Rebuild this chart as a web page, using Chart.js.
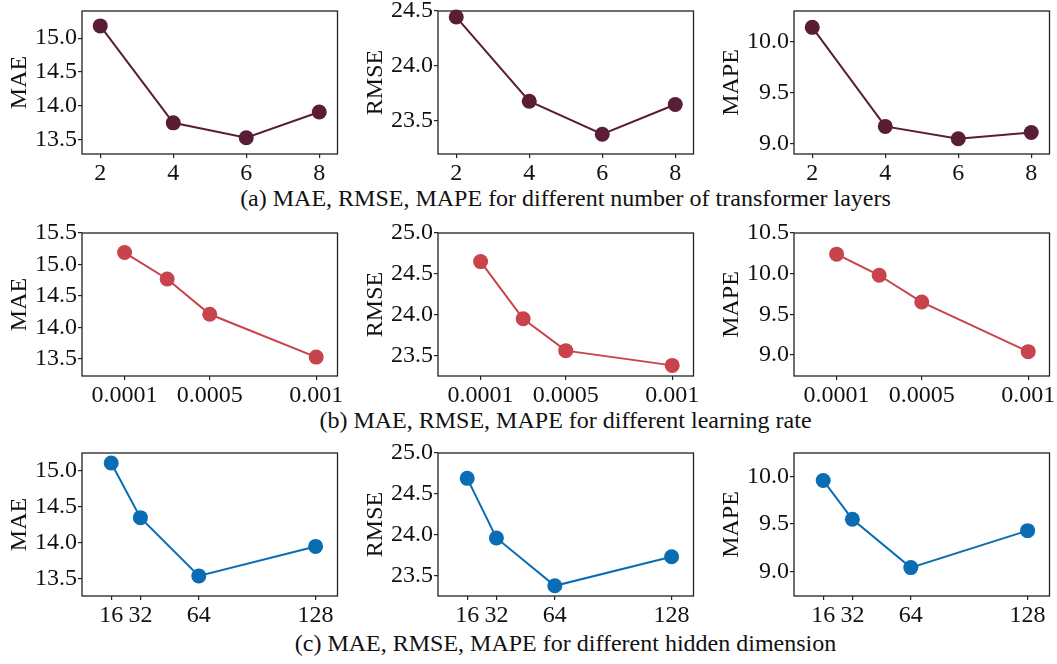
<!DOCTYPE html>
<html>
<head>
<meta charset="utf-8">
<script src="https://cdn.jsdelivr.net/npm/chart.js@4/dist/chart.umd.min.js"></script>
<style>
  body { margin: 0; background: #fff; }
  #wrap { position: relative; width: 1057px; height: 664px; overflow: hidden; background: #fff; }
  canvas { position: absolute; }
  .cap { position: absolute; left: 37px; width: 1057px; text-align: center; line-height: 28px;
         font-family: "Liberation Serif", "DejaVu Serif", serif; font-size: 24px; color: #111; }
</style>
</head>
<body>
<div id="wrap">
  <div class="cap" style="top:184px">(a) MAE, RMSE, MAPE for different number of transformer layers</div>
  <div class="cap" style="top:406px">(b) MAE, RMSE, MAPE for different learning rate</div>
  <div class="cap" style="top:629px">(c) MAE, RMSE, MAPE for different hidden dimension</div>
</div>
<script>
// x values for each row
const layers = [2, 4, 6, 8];
const learningRates = [0.0001, 0.0003, 0.0005, 0.001];
const hiddenDims = [16, 32, 64, 128];

// (a) transformer layers
const layersMAE = [15.18, 13.75, 13.53, 13.91];
const layersRMSE = [24.445, 23.68, 23.38, 23.65];
const layersMAPE = [10.14, 9.17, 9.05, 9.11];

// (b) learning rate
const lrMAE = [15.19, 14.77, 14.21, 13.53];
const lrRMSE = [24.65, 23.95, 23.56, 23.38];
const lrMAPE = [10.24, 9.98, 9.65, 9.04];

// (c) hidden dimension
const dimMAE = [15.11, 14.35, 13.54, 13.95];
const dimRMSE = [24.69, 23.96, 23.375, 23.73];
const dimMAPE = [9.96, 9.55, 9.04, 9.43];

// tick labels
const layerTicks = [2, 4, 6, 8];
const lrTicks = [0.0001, 0.0005, 0.001];
const lrTickLabels = ['0.0001', '0.0005', '0.001'];
const dimTicks = [16, 32, 64, 128];
const maeTicksA = [13.5, 14.0, 14.5, 15.0];
const rmseTicksA = [23.5, 24.0, 24.5];
const mapeTicksA = [9.0, 9.5, 10.0];
const maeTicksB = [13.5, 14.0, 14.5, 15.0, 15.5];
const rmseTicksB = [23.5, 24.0, 24.5, 25.0];
const mapeTicksB = [9.0, 9.5, 10.0, 10.5];
const maeTicksC = [13.5, 14.0, 14.5, 15.0];
const rmseTicksC = [23.5, 24.0, 24.5, 25.0];
const mapeTicksC = [9.0, 9.5, 10.0];

const FONT = '"Liberation Serif", "DejaVu Serif", serif';
const FS = 24;
const AXIS_W = 80, AXIS_H = 40, PAD_TOP = 12, PAD_RIGHT = 6;
const BOX_W = 257, BOX_H = 143;
const colLeft = [82, 438, 794];
const rowTop = [11, 233, 453];

// box around the plot area (matplotlib style spines)
const framePlugin = {
  id: 'frame',
  beforeDatasetsDraw(chart) {
    const a = chart.chartArea, c = chart.ctx;
    c.save();
    c.strokeStyle = '#222';
    c.lineWidth = 1.3;
    c.strokeRect(a.left, a.top, a.right - a.left, a.bottom - a.top);
    c.restore();
  }
};

function makeChart(row, col, xs, ys, color, yTitle, xRange, yRange, xTicks, yTicks, xLabels) {
  const cv = document.createElement('canvas');
  const w = AXIS_W + BOX_W + PAD_RIGHT, h = PAD_TOP + BOX_H + AXIS_H;
  cv.width = w; cv.height = h;
  cv.style.left = (colLeft[col] - AXIS_W) + 'px';
  cv.style.top = (rowTop[row] - PAD_TOP) + 'px';
  document.getElementById('wrap').appendChild(cv);

  const fixTicks = vals => scale => { scale.ticks = vals.map(v => ({ value: v })); };
  new Chart(cv.getContext('2d'), {
    type: 'line',
    data: {
      datasets: [{
        data: xs.map((x, i) => ({ x: x, y: ys[i] })),
        borderColor: color,
        backgroundColor: color,
        borderWidth: 2,
        pointRadius: 7.5,
        pointHoverRadius: 7.5,
        pointBorderWidth: 0,
        clip: false,
        tension: 0
      }]
    },
    options: {
      responsive: false,
      animation: false,
      events: [],
      layout: { padding: { top: PAD_TOP, right: PAD_RIGHT, left: 0, bottom: 0 } },
      plugins: { legend: { display: false }, tooltip: { enabled: false } },
      scales: {
        x: {
          type: 'linear',
          min: xRange[0], max: xRange[1],
          afterBuildTicks: fixTicks(xTicks),
          afterFit(s) { s.height = AXIS_H; s.paddingLeft = 0; s.paddingRight = 0; },
          border: { display: false },
          grid: { drawOnChartArea: false, drawTicks: true, tickLength: 4, color: '#222', lineWidth: 1.2 },
          ticks: {
            padding: 1, color: '#111', maxRotation: 0, autoSkip: false,
            font: { family: FONT, size: FS },
            callback: (v, i) => xLabels ? xLabels[i] : String(v)
          }
        },
        y: {
          min: yRange[0], max: yRange[1],
          afterBuildTicks: fixTicks(yTicks),
          afterFit(s) { s.width = AXIS_W; s.paddingTop = 0; s.paddingBottom = 0; },
          border: { display: false },
          grid: { drawOnChartArea: false, drawTicks: true, tickLength: 4, color: '#222', lineWidth: 1.2 },
          title: { display: true, text: yTitle, color: '#111', padding: { top: 3, bottom: 0 },
                   font: { family: FONT, size: FS } },
          ticks: {
            padding: 1, color: '#111', autoSkip: false,
            font: { family: FONT, size: FS },
            callback: v => v.toFixed(1)
          }
        }
      }
    },
    plugins: [framePlugin]
  });
}

const maroon = '#5a1d36', red = '#c8434b', blue = '#0a6db3';

makeChart(0, 0, layers, layersMAE, maroon, 'MAE', [1.5, 8.5], [13.29, 15.4], layerTicks, maeTicksA);
makeChart(0, 1, layers, layersRMSE, maroon, 'RMSE', [1.5, 8.5], [23.2, 24.5], layerTicks, rmseTicksA);
makeChart(0, 2, layers, layersMAPE, maroon, 'MAPE', [1.5, 8.5], [8.9, 10.3], layerTicks, mapeTicksA);

makeChart(1, 0, learningRates, lrMAE, red, 'MAE', [-0.0001, 0.0011], [13.23, 15.5], lrTicks, maeTicksB, lrTickLabels);
makeChart(1, 1, learningRates, lrRMSE, red, 'RMSE', [-0.0001, 0.0011], [23.25, 25.0], lrTicks, rmseTicksB, lrTickLabels);
makeChart(1, 2, learningRates, lrMAPE, red, 'MAPE', [-0.0001, 0.0011], [8.74, 10.5], lrTicks, mapeTicksB, lrTickLabels);

makeChart(2, 0, hiddenDims, dimMAE, blue, 'MAE', [0, 140], [13.26, 15.25], dimTicks, maeTicksC);
makeChart(2, 1, hiddenDims, dimRMSE, blue, 'RMSE', [0, 140], [23.25, 25.0], dimTicks, rmseTicksC);
makeChart(2, 2, hiddenDims, dimMAPE, blue, 'MAPE', [0, 140], [8.74, 10.25], dimTicks, mapeTicksC);
</script>
</body>
</html>
